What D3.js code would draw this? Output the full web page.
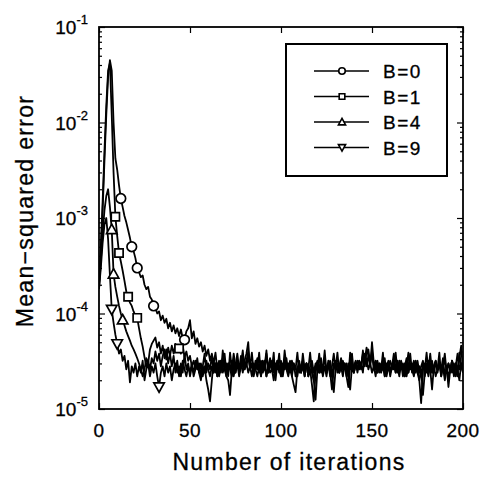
<!DOCTYPE html>
<html>
<head>
<meta charset="utf-8">
<script src="https://cdn.jsdelivr.net/npm/d3@7"></script>
<style>
	body { margin: 0; background: #fff; }
	text { font-family: "Liberation Sans", Arial, sans-serif; fill: #000; }
</style>
</head>
<body>
<script>
//mse curves, values in units of 1e-5, one value per iteration 0..200
var seriesNames = ["B=0", "B=1", "B=4", "B=9"];
var markerShapes = ["circle", "square", "triangle", "triangleDown"];

var mseB0 = [20, 45, 120, 400, 1200, 3000, 4500, 3500, 1000, 420,
	320, 220, 160, 130, 105, 90, 75, 62, 50, 45,
	38, 30, 27, 24, 25, 20, 18, 19, 15, 14,
	12, 11.5, 10, 10.5, 8.5, 9.5, 8, 8.8, 7, 8,
	6.5, 7.5, 6.2, 7, 5.8, 6.8, 5.5, 5.3, 6.5, 7,
	8.5, 5.5, 6.5, 4.8, 5.5, 4.5, 5, 4, 4.6, 3.6,
	4.2, 3.2, 3.8, 3,
	3.9, 2.6, 3.2, 2.4, 4.1, 2.8, 3.0, 2.2, 3.9, 2.6,
	3.8, 2.8, 3.2, 2.4, 3.0, 4.1, 2.6, 3.2, 4.0, 2.8,
	3.9, 2.4, 3.0, 2.6, 3.9, 2.2, 3.2, 2.8, 4.1, 2.4,
	3.0, 2.6, 3.9, 2.0, 3.0, 2.6, 3.2, 2.4, 4.1, 2.8,
	2.6, 3.2, 2.2, 3.0, 2.6, 3.9, 2.4, 2.8, 3.2, 2.2,
	3.0, 2.6, 3.9, 2.4, 2.0, 2.8, 3.2, 2.4, 3.0, 2.6,
	4.1, 2.4, 2.8, 3.2, 2.2, 3.0, 2.6, 3.9, 2.4, 2.8,
	3.2, 2.6, 3.0, 2.2, 3.9, 2.6, 2.8, 3.2, 2.4, 3.0,
	2.6, 4.1, 2.8, 3.9, 4.2, 3.0, 4.1, 2.6, 3.2, 2.4,
	3.0, 2.6, 3.9, 2.2, 2.8, 3.2, 2.4, 3.0, 2.6, 3.9,
	2.4, 3.2, 2.6, 3.0, 2.2, 2.8, 3.9, 2.6, 3.0, 2.4,
	3.2, 2.6, 2.8, 2.2, 3.0, 2.6, 3.9, 2.4, 2.8, 3.2,
	2.4, 3.0, 2.6, 3.9, 2.2, 2.8, 3.2, 2.6, 3.0, 2.4,
	3.2, 2.6, 3.0, 2.2, 3.9, 2.8, 2.6];

var mseB1 = [20, 50, 150, 500, 1500, 3500, 4200, 1200, 300, 103,
	65, 43, 35, 28, 22, 17, 15, 13, 12, 10.5,
	9.5, 9, 7, 5.5, 4.5, 3.5, 2.8, 3.2, 2.6, 3.4,
	3.0, 4.0, 3.2, 3.8, 2.8, 3.6, 4.2, 3.3, 4.4, 3.6,
	4.6, 3.8, 4.8, 4.2, 4.3, 3.8, 4.6, 3.5, 4.0, 3.2,
	3.6, 2.8, 3.2,
	2.6, 3.4, 2.4, 3.0, 2.2, 2.8, 2.0, 1.6, 1.2, 2.0,
	3.2, 2.4, 3.0, 2.2, 2.8, 3.4, 2.6, 2.2, 2.0, 1.4,
	2.6, 3.2, 2.4, 3.0, 2.6, 3.6, 2.8, 3.2, 3.8, 5.0,
	2.6, 3.0, 2.2, 2.8, 3.4, 2.4, 3.0, 2.6, 3.2, 2.2,
	2.8, 3.4, 2.6, 3.0, 2.4, 3.2, 2.6, 2.2, 3.0, 2.6,
	3.4, 2.4, 2.8, 2.2, 1.8, 1.5, 2.6, 3.0, 2.4, 3.2,
	2.6, 3.0, 2.2, 2.6, 1.8, 1.2, 2.4, 3.0, 2.6, 3.4,
	2.4, 2.8, 2.2, 3.0, 2.4, 1.6, 2.6, 3.2, 2.4, 2.8,
	3.4, 2.6, 3.0, 2.2, 1.7, 2.8, 3.2, 2.4, 3.0, 2.6,
	3.2, 2.8, 3.8, 3.2, 4.4, 3.6, 2.8, 5.0, 3.0, 2.6,
	3.2, 2.4, 3.0, 2.6, 3.4, 2.2, 2.8, 3.2, 2.6, 3.0,
	2.4, 3.2, 2.6, 3.0, 2.2, 2.8, 3.4, 2.4, 3.0, 2.6,
	3.2, 2.4, 2.8, 2.0, 1.15, 2.6, 3.0, 2.4, 3.2, 2.6,
	1.6, 2.8, 3.2, 2.4, 3.0, 2.6, 3.4, 2.2, 2.8, 1.7,
	2.6, 3.2, 2.4, 3.0, 2.6, 3.4, 4.6, 2.4];

var mseB4 = [18, 35, 70, 120, 170, 200, 130, 76, 26, 19,
	15, 12, 10, 8.6, 7.5, 6.5, 5.8, 5.2, 4.6, 4.2,
	3.8, 3.4, 3.0, 2.6, 2.2, 2.6, 3.4, 3.0, 4.2, 4.8,
	5.2, 5.6, 4.4, 5.0, 3.8, 4.6, 3.4, 4.2, 3.0, 3.8,
	2.8, 3.6, 2.4, 3.2, 2.2, 3.0,
	2.4, 3.8, 2.6, 3.0, 2.2, 2.8, 2.4, 3.2, 2.6, 3.0,
	2.2, 2.8, 3.8, 2.4, 3.0, 2.6, 3.6, 2.4, 3.0, 2.2,
	2.8, 3.2, 2.6, 3.8, 2.4, 3.0, 2.6, 3.2, 2.2, 2.8,
	3.8, 2.6, 3.0, 2.4, 3.2, 2.8, 3.6, 2.6, 3.0, 2.4,
	3.2, 2.6, 2.8, 2.2, 3.0, 2.6, 3.8, 2.4, 2.8, 3.2,
	2.4, 3.0, 2.6, 3.8, 2.2, 2.8, 3.2, 2.6, 3.0, 2.4,
	3.2, 2.6, 2.8, 2.2, 3.0, 2.4, 3.8, 2.6, 3.0, 2.2,
	2.8, 3.2, 2.4, 3.0, 2.6, 3.8, 2.4, 2.8, 3.2, 2.6,
	3.0, 2.2, 2.8, 3.8, 2.6, 3.0, 2.4, 3.2, 2.6, 2.8,
	2.2, 3.0, 2.6, 3.8, 2.4, 2.8, 3.2, 2.6, 3.0, 2.4,
	3.8, 2.8, 3.6, 3.0, 3.8, 2.8, 3.2, 2.4, 3.0, 2.6,
	3.2, 2.4, 2.8, 3.0, 2.2, 2.8, 3.8, 2.6, 3.0, 2.4,
	3.2, 2.6, 3.0, 2.2, 2.8, 3.8, 2.4, 3.0, 2.6, 3.2,
	2.4, 2.8, 3.2, 2.2, 3.0, 2.6, 3.8, 2.4, 2.8, 3.2,
	2.6, 3.0, 2.2, 2.8, 3.8, 2.4, 3.0, 2.6, 3.2, 2.2,
	2.8, 3.8, 2.6, 3.0, 2.4];

var mseB9 = [18, 30, 55, 85, 100, 60, 25, 11, 8, 6,
	4.8, 3.8, 4.2, 3.2, 3.6, 2.6, 3.2, 1.9, 2.8, 2.4,
	3.0, 2.2,
	2.8, 2.4, 3.2, 2.0, 2.6, 3.0, 2.2, 2.8, 2.4, 3.0,
	2.2, 1.7, 2.4, 2.8, 2.2, 3.0, 2.4, 2.8, 2.0, 2.6,
	3.0, 2.4, 2.8, 2.2, 3.2, 2.6, 2.2, 2.8, 2.4, 3.0,
	2.2, 2.6, 3.0, 2.4, 2.0, 2.8, 2.4, 3.2, 2.6, 2.2,
	2.8, 2.4, 3.0, 2.2, 2.6, 3.2, 2.4, 2.8, 2.2, 3.0,
	2.6, 2.2, 2.8, 2.4, 3.0, 2.2, 2.8, 3.4, 2.6, 3.0,
	2.4, 2.8, 2.2, 3.0, 2.6, 2.2, 2.8, 3.2, 2.4, 2.8,
	2.2, 3.0, 2.4, 2.6, 2.0, 2.8, 3.2, 2.4, 2.8, 2.2,
	3.0, 2.6, 2.2, 2.8, 2.4, 3.0, 2.2, 2.6, 3.2, 2.4,
	2.8, 2.2, 3.0, 2.6, 2.4, 2.8, 2.0, 1.25, 2.6, 2.4,
	3.0, 2.2, 2.8, 2.4, 3.2, 2.6, 2.2, 1.5, 2.6, 3.0,
	2.4, 2.8, 2.2, 3.0, 2.6, 2.2, 1.6, 2.8, 2.4, 3.0,
	2.6, 3.2, 2.8, 3.6, 3.0, 3.4, 2.6, 3.0, 2.4, 2.8,
	2.2, 3.0, 2.6, 2.4, 2.8, 2.2, 3.0, 2.6, 2.4, 2.8,
	3.2, 2.4, 2.8, 2.2, 3.0, 2.6, 2.2, 2.8, 2.4, 3.0,
	2.6, 2.2, 2.8, 2.4, 2.0, 2.6, 1.4, 2.4, 2.8, 2.2,
	3.0, 2.4, 2.8, 2.2, 2.6, 3.0, 2.4, 2.8, 2.0, 2.6,
	2.2, 2.8, 2.4, 3.0, 2.2, 2.6, 2.0, 3.0, 2.4];

//iterations where the markers sit on each curve
var markersB0 = [12, 18, 21, 30, 47];
var markersB1 = [9, 11, 16, 21, 44];
var markersB4 = [7, 8, 13];
var markersB9 = [7, 10, 33];

var xTicks = [0, 50, 100, 150, 200];
var yExponents = [-1, -2, -3, -4, -5];

(function () {
	var width = 484, height = 481;
	var margin = {left: 99, top: 27, right: 21, bottom: 72};
	var plotW = width - margin.left - margin.right,
		plotH = height - margin.top - margin.bottom;

	var allSeries = [mseB0, mseB1, mseB4, mseB9];
	var allMarkers = [markersB0, markersB1, markersB4, markersB9];

	var svg = d3.select("body")
		.append("svg")
		.attr("width", width)
		.attr("height", height);

	var x = d3.scaleLinear().domain([0, 200]).range([0, plotW]);
	var y = d3.scaleLog().domain([1e-5, 1e-1]).range([plotH, 0]);

	var g = svg.append("g")
		.attr("transform", "translate(" + margin.left + "," + margin.top + ")");

	//clip so nothing spills past the frame
	svg.append("defs").append("clipPath").attr("id", "plotclip")
		.append("rect").attr("width", plotW).attr("height", plotH);

	//ticks on all four sides, pointing inward
	var minorVals = [];
	for (var e = -5; e < -1; e++) {
		for (var m = 2; m <= 9; m++) minorVals.push(m * Math.pow(10, e));
	}
	var majorVals = yExponents.map(function (d) { return Math.pow(10, d); });

	g.append("g")
		.call(d3.axisBottom(x).tickValues(xTicks).tickSize(-6).tickFormat(""))
		.attr("transform", "translate(0," + plotH + ")");
	g.append("g")
		.call(d3.axisTop(x).tickValues(xTicks).tickSize(-6).tickFormat(""));
	g.append("g")
		.call(d3.axisLeft(y).tickValues(majorVals).tickSize(-6).tickFormat(""));
	g.append("g")
		.call(d3.axisLeft(y).tickValues(minorVals).tickSize(-3).tickFormat(""));
	g.append("g")
		.attr("transform", "translate(" + plotW + ",0)")
		.call(d3.axisRight(y).tickValues(majorVals).tickSize(-6).tickFormat(""));
	g.append("g")
		.attr("transform", "translate(" + plotW + ",0)")
		.call(d3.axisRight(y).tickValues(minorVals).tickSize(-3).tickFormat(""));
	g.selectAll(".domain").remove();
	g.selectAll(".tick line").attr("stroke", "#000").attr("stroke-width", 1.2);

	//x tick labels
	g.selectAll(".xlab")
		.data(xTicks)
		.enter()
		.append("text")
		.attr("x", function (d) { return x(d); })
		.attr("y", plotH + 28)
		.attr("text-anchor", "middle")
		.style("font-size", "19px")
		.style("letter-spacing", "0.5px")
		.style("stroke", "#000").style("stroke-width", 0.3)
		.text(function (d) { return d; });

	//y tick labels as 10 with superscript exponent
	var ylab = g.selectAll(".ylab")
		.data(yExponents)
		.enter()
		.append("text")
		.attr("x", -11)
		.attr("y", function (d) { return y(Math.pow(10, d)) + 7; })
		.attr("text-anchor", "end")
		.style("font-size", "19px")
		.style("stroke", "#000").style("stroke-width", 0.3);
	ylab.append("tspan").text("10");
	ylab.append("tspan")
		.attr("dy", -10)
		.style("font-size", "13px")
		.text(function (d) { return d; });

	//curves
	var line = d3.line()
		.x(function (d, i) { return x(i); })
		.y(function (d) { return y(d * 1e-5); });

	var curves = g.append("g").attr("clip-path", "url(#plotclip)");
	curves.selectAll(".curve")
		.data(allSeries)
		.enter()
		.append("path")
		.attr("d", line)
		.attr("fill", "none")
		.attr("stroke", "#000")
		.attr("stroke-width", 1.8)
		.attr("stroke-linejoin", "round");

	function markerPath(shape, s) {
		if (shape == "circle") return d3.symbol().type(d3.symbolCircle).size(s * s * 0.8)();
		if (shape == "square") return d3.symbol().type(d3.symbolSquare).size(s * s * 0.75)();
		var h = s * 0.55;
		if (shape == "triangle") return "M0," + (-h) + "L" + h + "," + (h * 0.8) + "L" + (-h) + "," + (h * 0.8) + "Z";
		return "M0," + h + "L" + h + "," + (-h * 0.8) + "L" + (-h) + "," + (-h * 0.8) + "Z";
	}

	allSeries.forEach(function (vals, k) {
		curves.selectAll(".mk" + k)
			.data(allMarkers[k])
			.enter()
			.append("path")
			.attr("d", markerPath(markerShapes[k], 9.5))
			.attr("transform", function (d) {
				return "translate(" + x(d) + "," + y(vals[d] * 1e-5) + ")";
			})
			.attr("fill", "#fff")
			.attr("stroke", "#000")
			.attr("stroke-width", 1.7);
	});

	//plot frame
	g.append("rect")
		.attr("width", plotW)
		.attr("height", plotH)
		.attr("fill", "none")
		.attr("stroke", "#000")
		.attr("stroke-width", 1.8);

	//legend
	var leg = g.append("g").attr("transform", "translate(" + (286 - margin.left) + "," + (44 - margin.top) + ")");
	leg.append("rect")
		.attr("width", 161)
		.attr("height", 132)
		.attr("fill", "#fff")
		.attr("stroke", "#000")
		.attr("stroke-width", 2);

	var rows = leg.selectAll(".row")
		.data(seriesNames)
		.enter()
		.append("g")
		.attr("transform", function (d, i) { return "translate(0," + (27 + i * 25.5) + ")"; });
	rows.append("line")
		.attr("x1", 28).attr("x2", 83)
		.attr("stroke", "#000").attr("stroke-width", 1.5);
	rows.append("path")
		.attr("d", function (d, i) { return markerPath(markerShapes[i], 6.5); })
		.attr("transform", "translate(56,0)")
		.attr("fill", "#fff")
		.attr("stroke", "#000")
		.attr("stroke-width", 1.6);
	rows.append("text")
		.attr("x", 97)
		.attr("y", 7)
		.style("font-size", "19px")
		.style("letter-spacing", "1.5px")
		.style("stroke", "#000").style("stroke-width", 0.3)
		.text(function (d) { return d; });

	//axis titles
	svg.append("text")
		.attr("x", margin.left + plotW / 2 + 8)
		.attr("y", 470)
		.attr("text-anchor", "middle")
		.style("font-size", "23px")
		.style("letter-spacing", "1.3px")
		.style("stroke", "#000").style("stroke-width", 0.3)
		.text("Number of iterations");

	svg.append("text")
		.attr("transform", "translate(33,211) rotate(-90)")
		.attr("text-anchor", "middle")
		.style("font-size", "23px")
		.style("letter-spacing", "1.3px")
		.style("stroke", "#000").style("stroke-width", 0.3)
		.text("Mean\u2212squared error");
})();
</script>
</body>
</html>
